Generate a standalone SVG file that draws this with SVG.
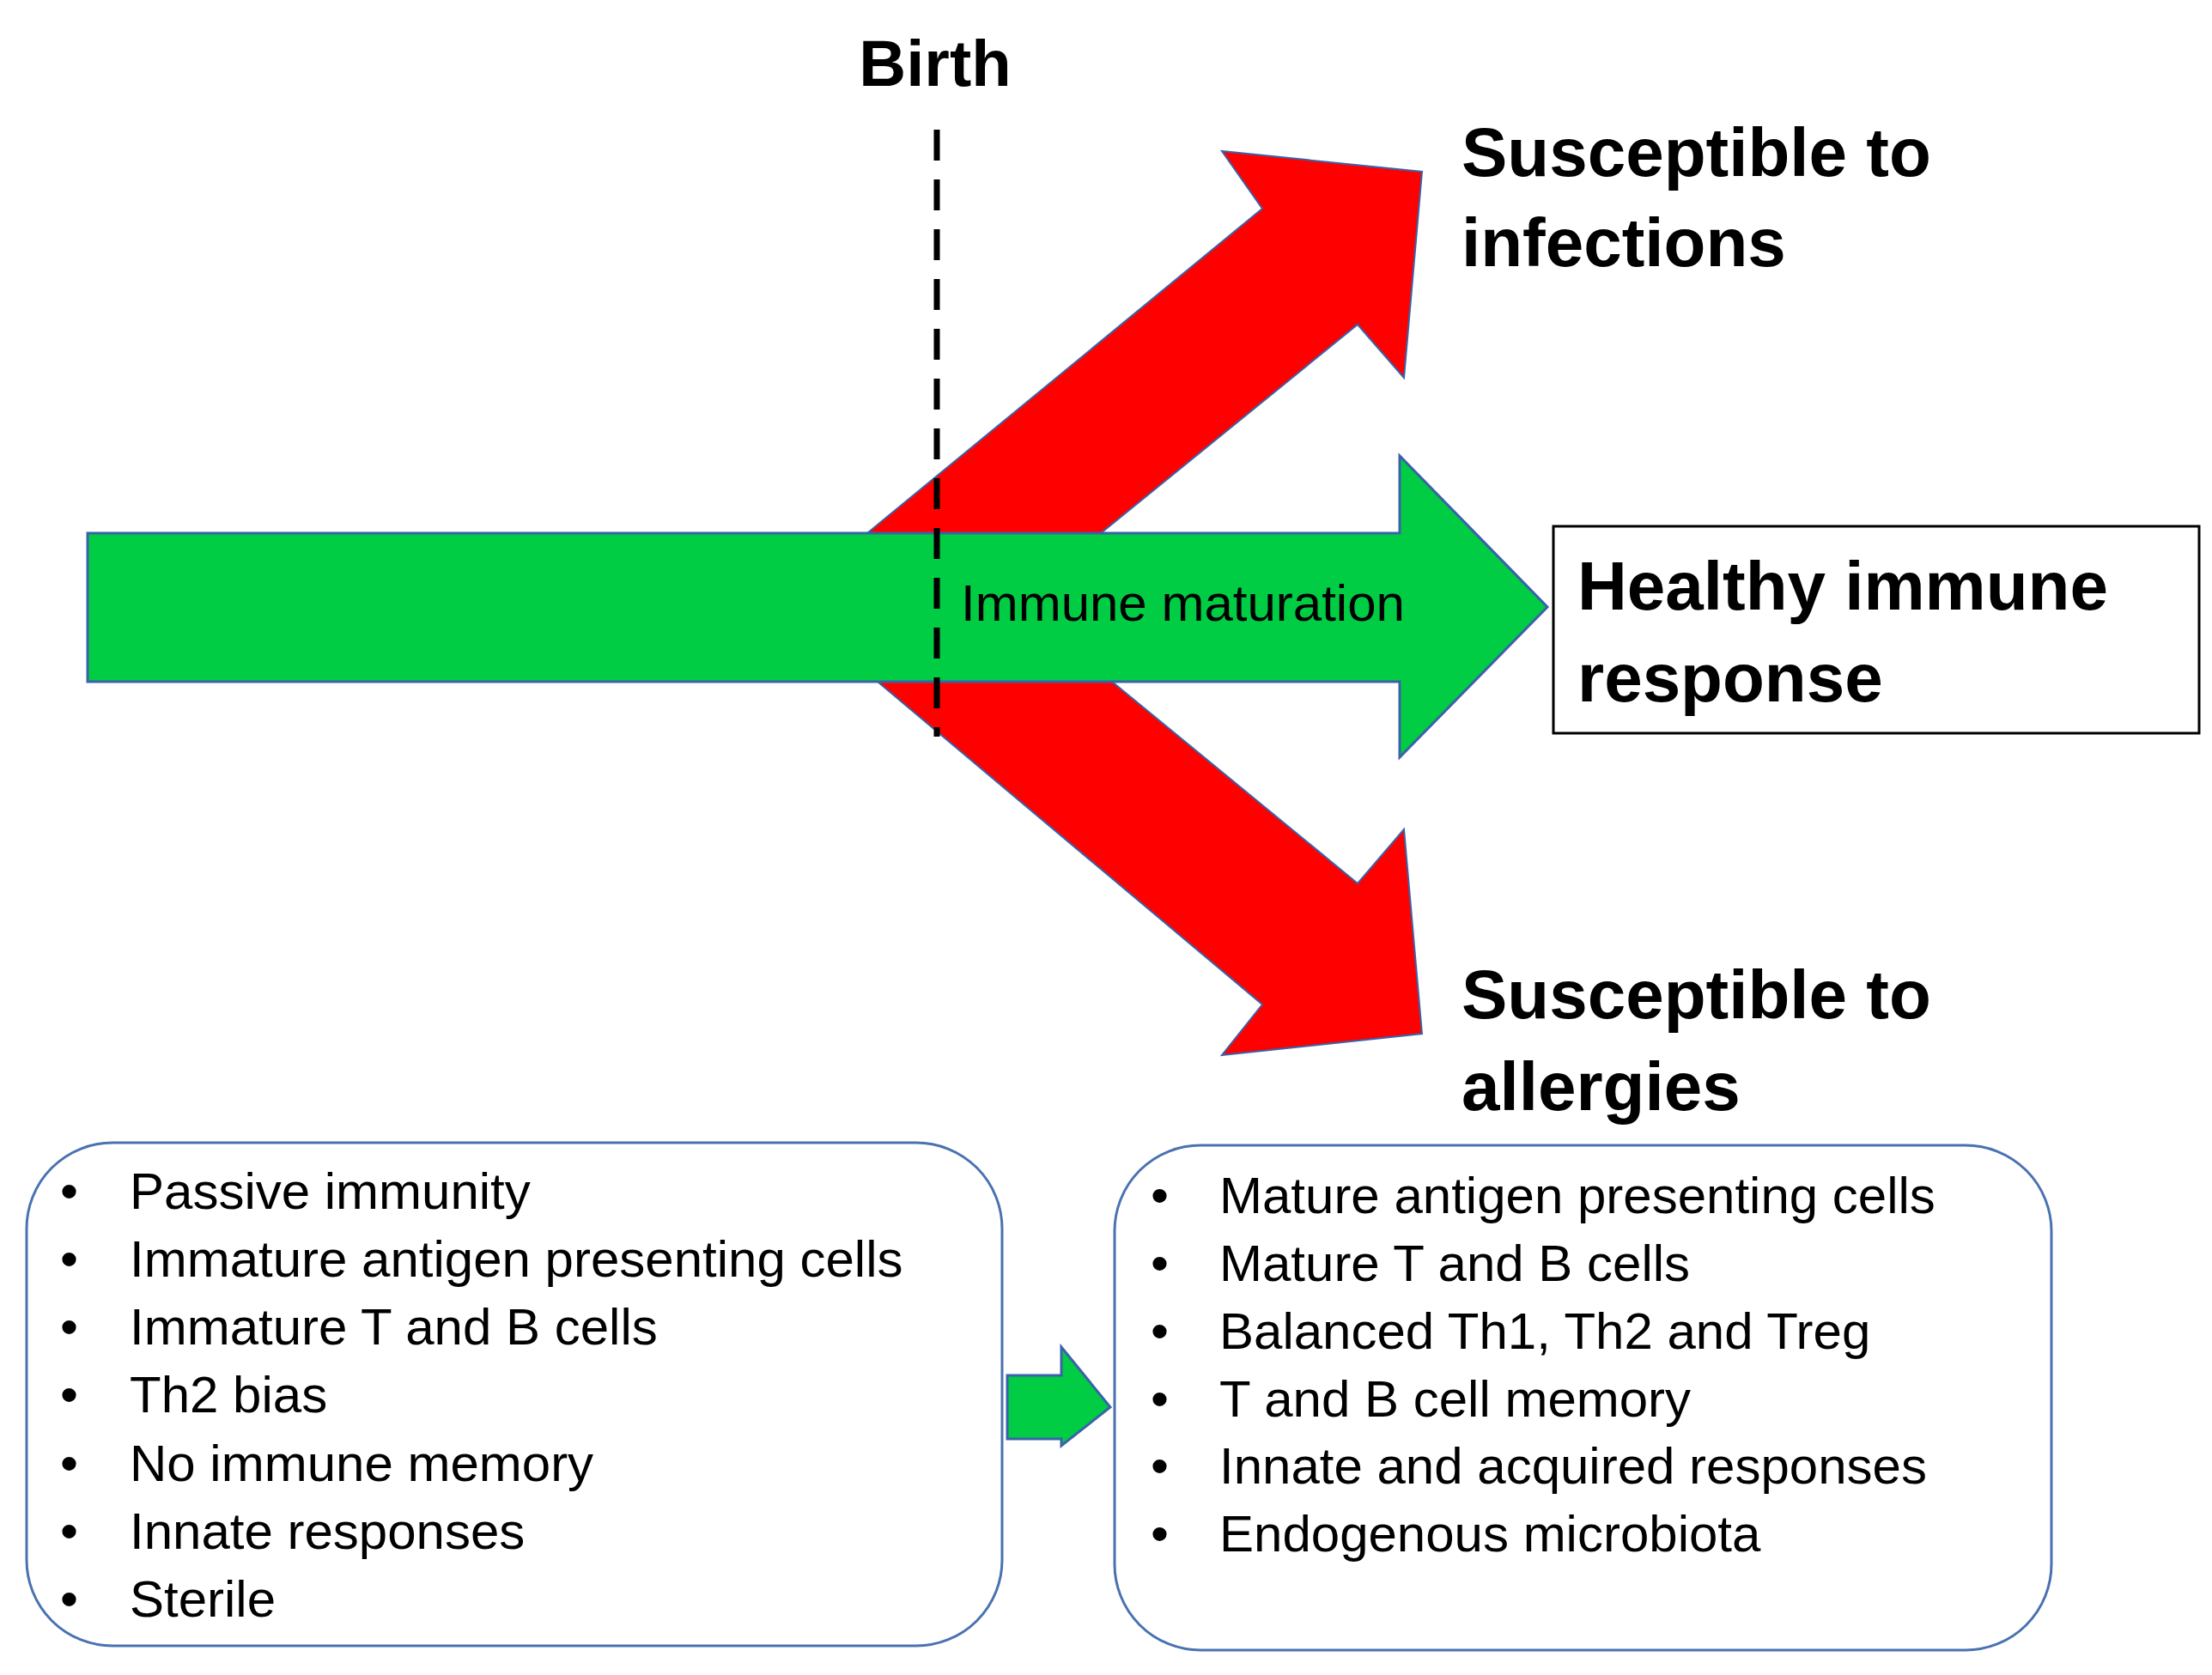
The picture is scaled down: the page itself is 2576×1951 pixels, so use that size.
<svg xmlns="http://www.w3.org/2000/svg" width="2576" height="1951" viewBox="0 0 2576 1951">
<style>
.b{font-family:"Liberation Sans",Arial,sans-serif;font-weight:bold;fill:#000}
.t{font-family:"Liberation Sans",Arial,sans-serif;font-size:60px;fill:#000}
.box{fill:#fff;stroke:#4a72b0;stroke-width:3}
.red{fill:#ff0000;stroke:#3a62a8;stroke-width:2}
.grn{fill:#00cc44;stroke:#3a62a8;stroke-width:3}
</style>
<rect width="2576" height="1951" fill="#fff"/>
<g id="connectors">
<polygon class="red" points="1010,621 1470,243 1423,176 1656,200 1635,440 1581,378 1282,621"/>
<polygon class="red" points="1022,794 1470,1170 1423,1229 1656,1204 1635,966 1581,1029 1295,794"/>
<polygon class="grn" points="102,621 1630,621 1630,531 1802,707 1630,882 1630,794 102,794"/>
<line x1="1091" y1="151" x2="1091" y2="858" stroke="#000" stroke-width="7" stroke-dasharray="36,22"/>
<text class="t" x="1119" y="723" font-size="60">Immune maturation</text>
<polygon class="grn" points="1173,1602 1236,1602 1236,1569 1293,1639 1236,1684 1236,1676 1173,1676"/>
</g>
<g id="birth"><text class="b" x="1089" y="100" font-size="76" text-anchor="middle">Birth</text></g>
<g id="infections"><text class="b" x="1702" y="205" font-size="80">Susceptible to</text><text class="b" x="1702" y="310" font-size="80">infections</text></g>
<g id="allergies"><text class="b" x="1702" y="1186" font-size="80">Susceptible to</text><text class="b" x="1702" y="1293" font-size="80">allergies</text></g>
<g id="healthy"><rect x="1809" y="613" width="752" height="241" fill="#fff" stroke="#000" stroke-width="3"/>
<text class="b" x="1837" y="710" font-size="80">Healthy immune</text><text class="b" x="1837" y="817" font-size="80">response</text></g>
<g id="before"><rect class="box" x="31" y="1331" width="1136" height="586" rx="100"/>
<g class="t">
<text x="70" y="1408">•</text><text x="151" y="1408">Passive immunity</text>
<text x="70" y="1487">•</text><text x="151" y="1487">Immature antigen presenting cells</text>
<text x="70" y="1566">•</text><text x="151" y="1566">Immature T and B cells</text>
<text x="70" y="1645">•</text><text x="151" y="1645">Th2 bias</text>
<text x="70" y="1725">•</text><text x="151" y="1725">No immune memory</text>
<text x="70" y="1804">•</text><text x="151" y="1804">Innate responses</text>
<text x="70" y="1883">•</text><text x="151" y="1883">Sterile</text>
</g></g>
<g id="after"><rect class="box" x="1298" y="1334" width="1091" height="588" rx="100"/>
<g class="t">
<text x="1340" y="1413">•</text><text x="1420" y="1413">Mature antigen presenting cells</text>
<text x="1340" y="1492">•</text><text x="1420" y="1492">Mature T and B cells</text>
<text x="1340" y="1571">•</text><text x="1420" y="1571">Balanced Th1, Th2 and Treg</text>
<text x="1340" y="1650">•</text><text x="1420" y="1650">T and B cell memory</text>
<text x="1340" y="1728">•</text><text x="1420" y="1728">Innate and acquired responses</text>
<text x="1340" y="1807">•</text><text x="1420" y="1807">Endogenous microbiota</text>
</g></g>
</svg>
